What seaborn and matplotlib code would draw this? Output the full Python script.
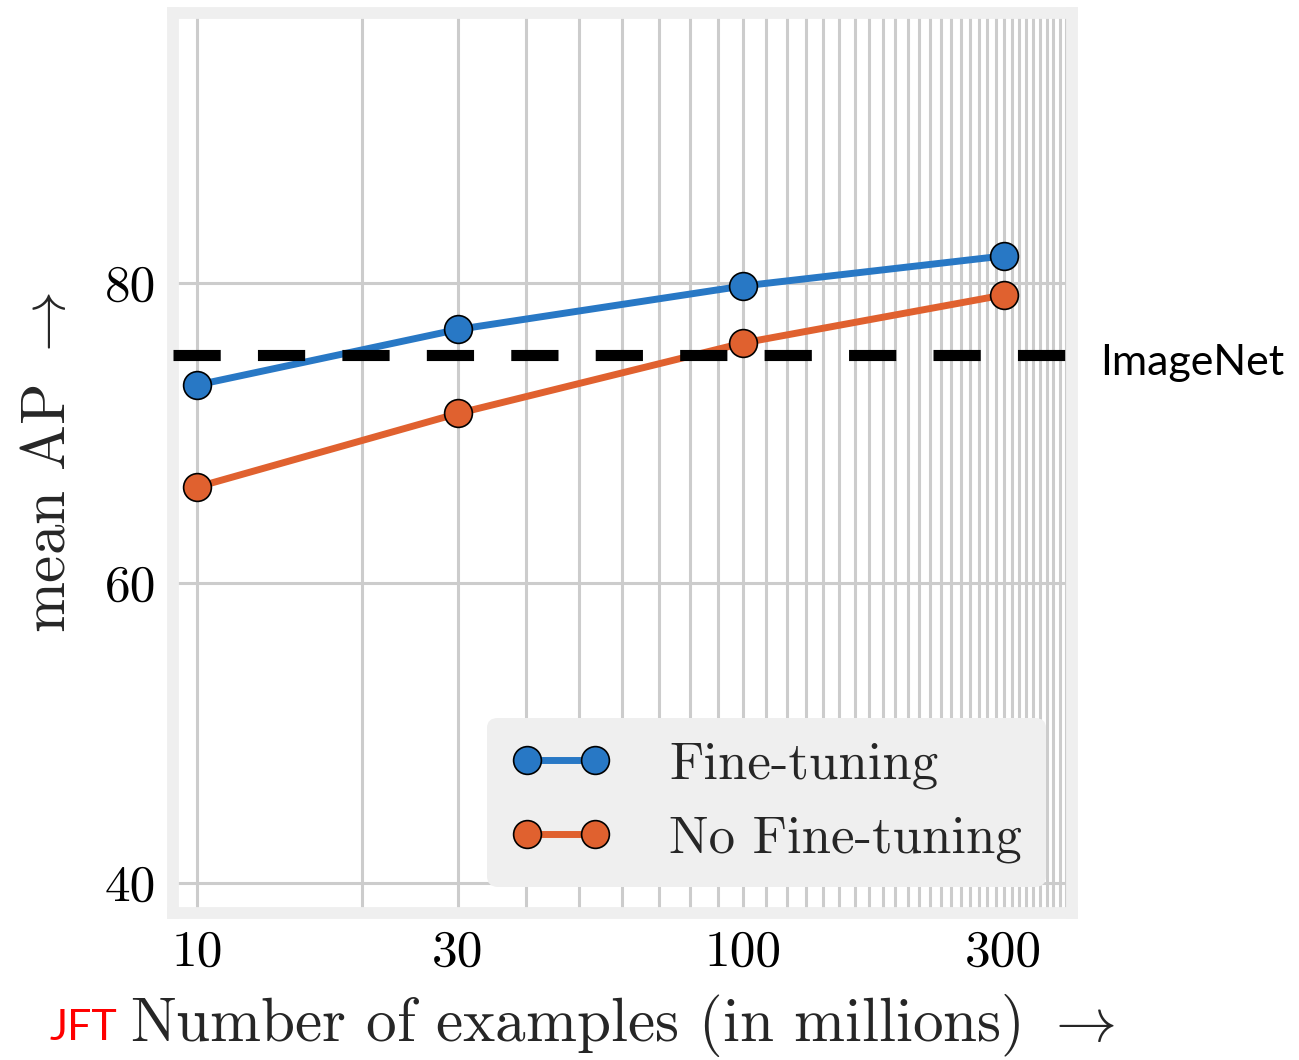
import numpy as np
import pandas as pd
import matplotlib
matplotlib.use("Agg")
import matplotlib.pyplot as plt
from matplotlib.ticker import FixedLocator, NullFormatter
import seaborn as sns

# JFT pre-training set size (millions of examples)
examples = [10, 30, 100, 300]
fine_tuning_ap = [73.2, 76.9, 79.8, 81.8]
no_fine_tuning_ap = [66.4, 71.3, 76.0, 79.2]
imagenet_ap = 75.2

series_names = ["Fine-tuning", "No Fine-tuning"]
series_colors = ["#2878c5", "#e0612f"]
x_ticks = [10, 30, 100, 300]
x_tick_labels = ["10", "30", "100", "300"]
y_ticks = [40, 60, 80]
y_tick_labels = ["40", "60", "80"]

df = pd.DataFrame({
    "examples": examples * 2,
    "ap": fine_tuning_ap + no_fine_tuning_ap,
    "setting": [series_names[0]] * len(examples) + [series_names[1]] * len(examples),
})

sns.set_theme(style="whitegrid")
plt.rcParams["font.family"] = ["cmr10"]
plt.rcParams["mathtext.fontset"] = "cm"
plt.rcParams["axes.formatter.use_mathtext"] = True
plt.rcParams["axes.unicode_minus"] = False

fig = plt.figure(figsize=(12.99, 10.60), dpi=100)
ax = fig.add_axes([0.1328, 0.1387, 0.6924, 0.8491])

sns.lineplot(
    data=df, x="examples", y="ap", hue="setting",
    hue_order=series_names, palette=series_colors,
    marker="o", markersize=20, markeredgecolor="black", markeredgewidth=1.2,
    linewidth=5, legend=False, ax=ax, zorder=3,
)

ax.axhline(imagenet_ap, color="black", linewidth=8, dashes=(4.25, 3.35), zorder=4)

ax.set_xscale("log")
ax.set_xlim(9, 400)
ax.set_ylim(38, 98)
ax.set_xticks(x_ticks)
ax.set_xticklabels(x_tick_labels)
ax.xaxis.set_minor_locator(FixedLocator(np.arange(10, 400, 10)))
ax.xaxis.set_minor_formatter(NullFormatter())
ax.set_yticks(y_ticks)
ax.set_yticklabels(y_tick_labels)

ax.set_facecolor("white")
ax.grid(True, which="both", axis="x", color="#cccccc", linewidth=2.2)
ax.grid(True, which="major", axis="y", color="#cccccc", linewidth=2.2)
ax.set_axisbelow(True)
for side in ax.spines.values():
    side.set_color("#efefef")
    side.set_linewidth(8.5)

ax.tick_params(axis="both", which="both", length=0, labelsize=37, pad=12, colors="black")

ax.set_xlabel(r"Number of examples (in millions) $\rightarrow$", fontsize=44, labelpad=12)
ax.set_ylabel(r"mean AP $\rightarrow$", fontsize=44)
ax.yaxis.set_label_coords(-0.106, 0.5)

handles = ax.get_lines()[:2]
leg = ax.legend(
    handles, series_names, loc="lower right", fontsize=38, numpoints=2,
    handlelength=1.9, handletextpad=1.1, labelspacing=0.5, borderpad=0.45,
    borderaxespad=0.5, frameon=True, fancybox=True, framealpha=1.0,
)
leg.get_frame().set_facecolor("#efefef")
leg.get_frame().set_edgecolor("none")

ax.text(1.031, 73.85, "ImageNet", transform=ax.get_yaxis_transform(),
        family="Lato", fontsize=31, color="black", ha="left", va="baseline")
fig.text(50 / 1299, 1 - 1040 / 1060, "JFT", family="Lato", fontsize=31,
         color="#ff0000", ha="left", va="baseline")

fig.savefig("out.png", dpi=100)
